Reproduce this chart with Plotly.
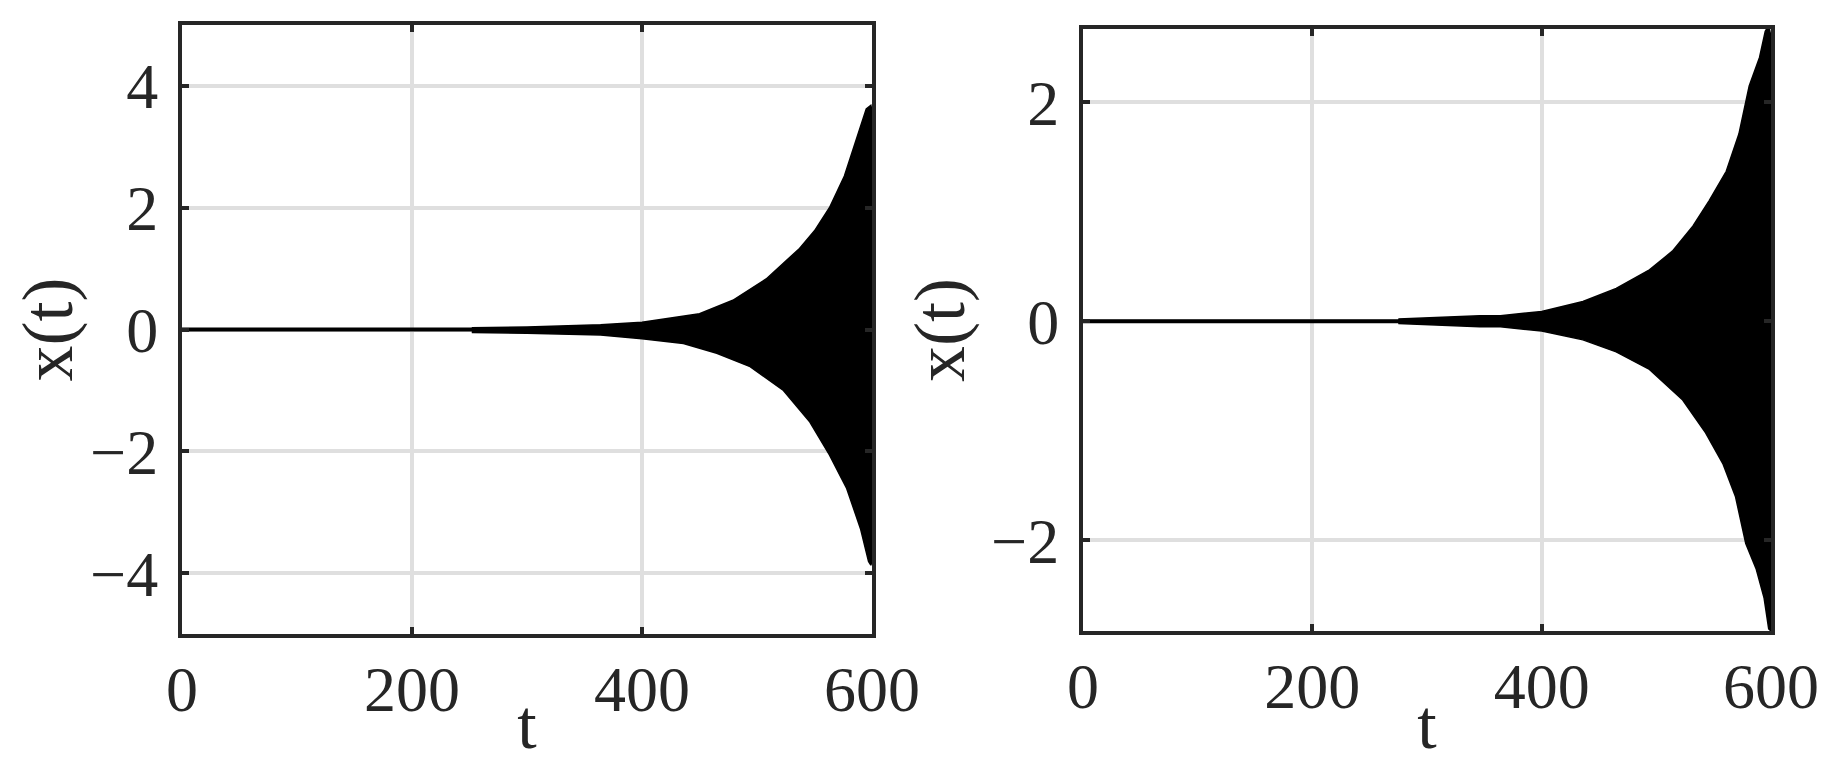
import plotly.graph_objects as go

# ---- data (envelope of the growing oscillation) ----
t_line = [0, 600]
x_line = [0, 0]

# left panel
tL_up = [252, 300, 364, 400, 450, 479, 508, 537, 550, 563, 576, 587, 595, 599, 600]
xL_up = [0.03, 0.04, 0.08, 0.12, 0.26, 0.48, 0.83, 1.33, 1.62, 2.00, 2.52, 3.15, 3.62, 3.68, 3.60]
tL_lo = [252, 300, 364, 400, 436, 465, 494, 523, 546, 563, 578, 590, 597, 599, 600]
xL_lo = [-0.05, -0.06, -0.09, -0.15, -0.23, -0.39, -0.61, -1.00, -1.52, -2.06, -2.61, -3.27, -3.81, -3.87, -3.80]

# right panel
tR_up = [275, 346, 364, 400, 436, 465, 494, 514, 532, 546, 561, 572, 581, 590, 595, 598, 600]
xR_up = [0.02, 0.05, 0.05, 0.09, 0.18, 0.30, 0.47, 0.64, 0.87, 1.10, 1.37, 1.71, 2.15, 2.41, 2.65, 2.70, 2.60]
tR_lo = [275, 346, 364, 400, 436, 465, 494, 523, 543, 558, 569, 578, 587, 594, 598, 600]
xR_lo = [-0.02, -0.05, -0.05, -0.09, -0.17, -0.28, -0.44, -0.72, -1.02, -1.30, -1.60, -2.03, -2.26, -2.53, -2.81, -2.83]

x_ticks = [0, 200, 400, 600]
yL_ticks = [-4, -2, 0, 2, 4]
yR_ticks = [-2, 0, 2]

AX = "#262626"
GRID = "#dfdfdf"
FONT = "Liberation Serif"

fig = go.Figure()


def add_panel(t_up, x_up, t_lo, x_lo, xa, ya):
    fig.add_trace(go.Scatter(x=t_line, y=x_line, mode="lines",
                             line=dict(color="black", width=4),
                             xaxis=xa, yaxis=ya, showlegend=False, hoverinfo="skip"))
    px = list(t_up) + list(reversed(t_lo))
    py = list(x_up) + list(reversed(x_lo))
    fig.add_trace(go.Scatter(x=px, y=py, mode="lines", fill="toself",
                             fillcolor="black", line=dict(color="black", width=1.5),
                             xaxis=xa, yaxis=ya, showlegend=False, hoverinfo="skip"))


add_panel(tL_up, xL_up, tL_lo, xL_lo, "x", "y")
add_panel(tR_up, xR_up, tR_lo, xR_lo, "x2", "y2")

# page has an 8px body margin; size the figure to fit inside the window
OFF = 8
W, H = 1839 - 2 * OFF, 771 - 2 * OFF


def xd(a, b):
    return [(a - OFF) / W, (b - OFF) / W]


def yd(top, bottom):
    return [1 - (bottom - OFF) / H, 1 - (top - OFF) / H]


def xaxis(domain, anchor):
    return dict(domain=domain, anchor=anchor, range=[0, 600], tickvals=x_ticks,
                ticktext=[str(v) for v in x_ticks],
                showgrid=True, gridcolor=GRID, gridwidth=4, zeroline=False,
                showline=True, linecolor=AX, linewidth=4, mirror="ticks",
                ticks="inside", ticklen=7, tickwidth=4, tickcolor=AX,
                ticklabelstandoff=-4,
                tickfont=dict(family=FONT, size=64, color=AX),
                title=dict(text="t", font=dict(family=FONT, size=70, color=AX), standoff=0),
                automargin=False)


def yaxis(domain, anchor, rng, ticks):
    return dict(domain=domain, anchor=anchor, range=rng, tickvals=ticks,
                ticktext=[(("\u2212" + str(-v)) if v < 0 else str(v)) for v in ticks],
                showgrid=True, gridcolor=GRID, gridwidth=4, zeroline=False,
                showline=True, linecolor=AX, linewidth=4, mirror="ticks",
                ticks="inside", ticklen=7, tickwidth=4, tickcolor=AX,
                ticklabelstandoff=7,
                tickfont=dict(family=FONT, size=64, color=AX),
                title=dict(text="x(t)", font=dict(family=FONT, size=72, color=AX), standoff=4),
                automargin=False)


fig.update_layout(
    width=W, height=H,
    margin=dict(l=0, r=0, t=0, b=0),
    paper_bgcolor="white", plot_bgcolor="white",
    xaxis=xaxis(xd(182, 872), "y"),
    yaxis=yaxis(yd(25, 634), "x", [-5, 5], yL_ticks),
    xaxis2=xaxis(xd(1083, 1771), "y2"),
    yaxis2=yaxis(yd(29, 631), "x2", [-2.83, 2.67], yR_ticks),
)

fig.write_html("out.html")
